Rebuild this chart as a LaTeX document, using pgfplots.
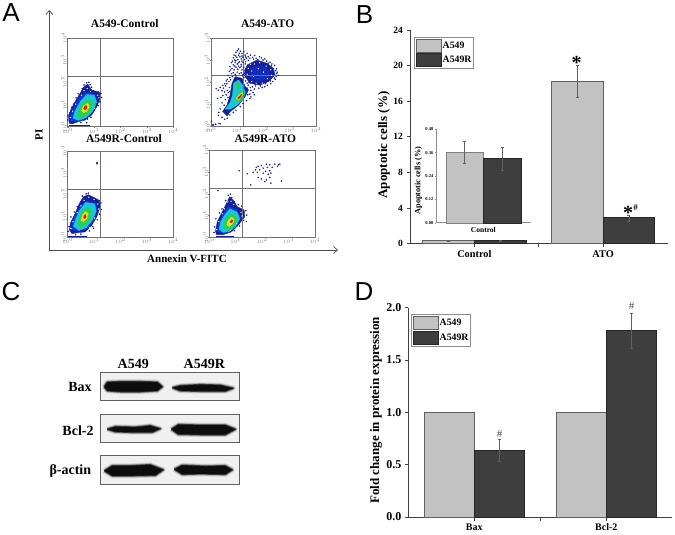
\documentclass[border=0pt]{standalone}
\usepackage{fontspec}
\usepackage{pgfplots}
\pgfplotsset{compat=1.18}
\usetikzlibrary{arrows.meta}
\setmainfont{Liberation Serif}
\newfontfamily\panelfont{Liberation Sans}
\definecolor{barlight}{HTML}{C2C2C2}
\definecolor{bardark}{HTML}{3E3E3E}
\definecolor{dotnavy}{HTML}{14209A}
\definecolor{fblue}{HTML}{1238D8}
\definecolor{fcyan}{HTML}{18C8D8}
\definecolor{fgreen}{HTML}{28D050}
\definecolor{fyellow}{HTML}{E4E020}
\definecolor{fred}{HTML}{D81C10}
\newcommand\fs[1]{\fontsize{#1}{#1}\selectfont}
\tikzset{
  pct/.style={font=\fs{3.6}, text=gray},
  legbox/.style={
    draw=black!45, line width=0.6pt, fill=white, inner sep=1.5pt, row sep=1pt,
    font=\bfseries\fs{9.8}, anchor=north west,
    nodes={inner sep=0.6pt, anchor=west},
    /tikz/every even column/.append style={column sep=3pt}
  }
}
\pgfplotsset{
  flow/.style={
    scale only axis, xmin=0, xmax=4, ymin=0, ymax=4,
    xtick={0,1,2,3,4}, ytick={0,1,2,3,4},
    xticklabels={$10^0$,$10^1$,$10^2$,$10^3$,$10^4$},
    yticklabels={$10^0$,$10^1$,$10^2$,$10^3$,$10^4$},
    tick label style={font=\fs{3.5}, text=gray, inner sep=0pt},
    yticklabel style={rotate=90},
    axis line style={gray!90!black, line width=0.8pt},
    tick style={gray, line width=0.3pt},
    tick align=outside, major tick length=1pt,
    xtick pos=lower, ytick pos=left,
    title style={font=\bfseries\fs{11.5}, anchor=center, inner sep=0pt},
    clip=true
  },
  blob/.style={fill=#1, draw=#1, line width=0.4pt, line join=round, forget plot},
  dots/.style={only marks, mark=*, mark size=0.55pt, color=dotnavy, forget plot},
  specks/.style={only marks, mark=*, mark size=0.4pt, color=white, forget plot},
  cross/.style={gray!90!black, line width=0.8pt, forget plot},
  bars/.style={
    scale only axis, ybar=0pt, ymin=0,
    axis lines*=left, tick align=outside,
    axis line style={black!75, line width=0.9pt},
    tick style={black!75, line width=0.8pt},
    major tick length=3.5pt,
    /pgf/number format/assume math mode=true,
    tick label style={font=\bfseries\fs{9.5}},
    clip=false
  },
  barleg/.style={legend image code/.code={\draw[##1] (0pt,-6.4pt) rectangle (25.5pt,6.4pt);}},
  lightbar/.style={fill=barlight, draw=black!62, line width=0.8pt, barleg},
  darkbar/.style={fill=bardark, draw=black!85, line width=0.8pt, barleg},
  errs/.style={
    error bars/.cd, y dir=both, y explicit,
    error bar style={color=black!62, line width=0.5pt},
    error mark options={rotate=90, mark size=1.5pt, color=black!62, line width=0.4pt}
  },
  blot/.style={
    scale only axis, width=139.4pt, height=28.4pt,
    xmin=0, xmax=139.4, ymin=0, ymax=28.4, ticks=none,
    axis line style={black!62, line width=1.1pt},
    axis background/.style={fill=black!6}
  }
}
% one western blot band, its soft edge built up from wide strokes
\newcommand\band[1]{%
  \addplot[draw=black, line width=5pt, opacity=0.1, line join=round, forget plot] coordinates {#1};
  \addplot[draw=black, line width=3.2pt, opacity=0.25, line join=round, forget plot] coordinates {#1};
  \addplot[draw=black, line width=1.6pt, opacity=0.6, line join=round, forget plot] coordinates {#1};
  \addplot[fill=black!95, draw=none, forget plot] coordinates {#1};
}

\begin{document}
\begin{tikzpicture}[x=1pt, y=-1pt]
\useasboundingbox (0,0) rectangle (675,535);

% ---------- A: flow cytometry ----------
\draw[-{Straight Barb[length=4pt,width=7pt]}, black!70, line width=0.7pt] (49.3,250) -- (49.3,10);
\draw[-{Straight Barb[length=4pt,width=7pt]}, black!70, line width=0.7pt] (49.3,250) -- (338,250);
\node[font=\bfseries\fs{11}, rotate=90] at (39,135) {PI};
\node[font=\bfseries\fs{11}] at (187,259) {Annexin V-FITC};

\begin{axis}[flow, at={(67.7pt,-126.7pt)}, anchor=south west, width=105.6pt, height=88.7pt,
  title={A549-Control}, title style={at={(rel axis cs:0.54,1.095)}}]
\addplot[blob=dotnavy] coordinates {(0.06,0.15)(0.03,0.45)(0.11,0.75)(0.28,1.13)(0.47,1.50)(0.59,1.77)(0.76,1.92)(0.91,1.65)(1.23,1.53)(1.23,1.28)(1.10,0.90)(0.91,0.53)(0.66,0.30)(0.41,0.23)(0.15,0.12)};
\addplot[specks] coordinates {(0.62,1.62)(0.74,1.72)(0.86,1.58)(1.14,1.42)(1.18,1.30)(0.30,1.02)(0.18,0.70)(0.10,0.42)(1.02,0.82)(0.80,0.42)(0.52,1.42)};
\addplot[blob=fblue] coordinates {(0.12,0.22)(0.12,0.55)(0.26,0.92)(0.44,1.30)(0.68,1.55)(1.04,1.46)(1.10,1.18)(0.96,0.70)(0.70,0.38)(0.38,0.27)};
\addplot[blob=fcyan] coordinates {(0.20,0.38)(0.28,0.70)(0.48,1.13)(0.72,1.45)(1.00,1.42)(1.10,1.10)(0.95,0.70)(0.70,0.42)(0.40,0.28)};
\addplot[blob=fgreen] coordinates {(0.36,0.48)(0.42,0.78)(0.58,1.10)(0.80,1.25)(0.95,1.10)(0.88,0.75)(0.70,0.52)(0.48,0.40)};
\addplot[blob=fyellow] coordinates {(0.52,0.70)(0.60,0.95)(0.76,1.05)(0.82,0.90)(0.72,0.70)(0.60,0.62)};
\addplot[blob=fred] coordinates {(0.60,0.80)(0.66,0.95)(0.73,0.94)(0.72,0.82)(0.65,0.76)};
\addplot[dots] coordinates {(0.72,1.98)(0.80,2.00)(0.85,1.90)(0.62,1.88)(0.55,1.72)(0.90,1.78)(0.98,1.62)(1.05,1.58)(1.15,1.58)(1.26,1.50)(1.28,1.32)(1.22,1.12)(1.15,0.95)(1.08,1.02)(1.00,0.72)(0.88,0.42)(0.75,0.35)(0.40,1.48)(0.32,1.30)(0.22,1.02)(0.15,0.88)(0.08,0.62)(0.02,0.52)(0.00,0.30)(0.72,0.18)(0.50,0.18)};
\addplot[dotnavy, line width=1pt, forget plot] coordinates {(0.05,0.05)(0.85,0.05)};
\addplot[cross] coordinates {(1.25,0)(1.25,4)};
\addplot[cross] coordinates {(0,2.28)(4,2.28)};
\node[pct] at (rel axis cs:-0.05,1.087) {0.2\%};
\node[pct] at (rel axis cs:1.057,1.087) {0.2\%};
\node[pct] at (rel axis cs:-0.05,-0.056) {99.5\%};
\node[pct] at (rel axis cs:1.057,-0.056) {0.2\%};
\end{axis}

\begin{axis}[flow, at={(211pt,-126pt)}, anchor=south west, width=105pt, height=88pt,
  title={A549-ATO}, title style={at={(rel axis cs:0.54,1.095)}}]
\addplot[blob=dotnavy] coordinates {(1.37,2.77)(1.75,3.00)(2.13,2.85)(2.38,2.62)(2.44,2.32)(2.19,2.02)(1.87,1.86)(1.49,1.94)(1.30,2.24)(1.28,2.55)};
\addplot[specks] coordinates {(1.42,2.62)(1.50,2.80)(1.38,2.35)(1.35,2.10)(1.55,2.02)(1.72,1.95)(1.95,1.95)(2.15,2.15)(2.30,2.30)(2.28,2.55)(2.10,2.72)(1.85,2.88)(1.65,2.82)(1.55,2.50)(1.62,2.25)(1.80,2.60)(2.00,2.45)};
\addplot[blob=fblue, opacity=0.55] coordinates {(1.60,2.70)(1.95,2.72)(2.22,2.50)(2.20,2.20)(1.90,2.05)(1.55,2.15)(1.45,2.45)};
\addplot[blob=dotnavy] coordinates {(0.44,0.65)(0.61,0.95)(0.73,1.41)(0.80,1.94)(0.92,2.24)(1.18,2.17)(1.30,1.79)(1.43,1.64)(1.30,1.33)(1.05,0.95)(0.73,0.65)(0.61,0.45)};
\addplot[blob=fcyan] coordinates {(0.54,0.76)(0.73,1.06)(0.82,1.41)(0.86,1.94)(1.05,2.09)(1.20,1.86)(1.30,1.56)(1.24,1.26)(0.99,0.95)(0.73,0.76)};
\addplot[blob=fgreen] coordinates {(0.95,1.86)(1.05,1.97)(1.11,1.79)(0.99,1.67)};
\addplot[blob=fgreen] coordinates {(0.90,1.18)(1.03,1.48)(1.24,1.61)(1.25,1.41)(1.08,1.11)};
\addplot[blob=fyellow] coordinates {(0.95,1.23)(1.08,1.44)(1.22,1.53)(1.20,1.39)(1.05,1.18)};
\addplot[blob=fred] coordinates {(1.01,1.26)(1.13,1.41)(1.18,1.45)(1.14,1.33)(1.05,1.23)};
\addplot[dots] coordinates {(0.95,3.35)(1.00,3.42)(1.05,3.50)(1.08,3.30)(1.12,3.40)(1.18,3.30)(1.25,3.38)(1.30,3.22)(1.38,3.30)(1.42,3.15)(1.50,3.22)(1.58,3.12)(1.66,3.20)(1.72,3.08)(1.85,3.15)(1.92,3.10)(2.05,3.05)(2.12,2.95)(2.25,2.90)(2.32,2.82)(2.42,2.75)(2.50,2.60)(2.52,2.45)(2.48,2.25)(2.58,2.30)(2.45,2.12)(2.35,2.02)(2.28,1.92)(2.15,1.85)(2.05,1.78)(1.95,1.75)(1.82,1.72)(1.70,1.82)(1.58,1.78)(1.65,1.68)(1.52,1.62)(1.60,1.52)(1.48,1.45)
(0.85,3.10)(0.90,3.00)(0.98,3.12)(1.02,3.02)(1.10,3.15)(1.15,3.05)(1.22,3.12)(1.28,3.02)(1.35,3.08)(1.42,2.98)(0.78,2.88)(0.85,2.78)(0.92,2.90)(1.00,2.82)(1.08,2.92)(1.15,2.80)(1.22,2.88)(1.30,2.82)(0.72,2.70)(0.80,2.62)(0.88,2.55)(0.95,2.68)(1.02,2.58)(1.10,2.65)(1.18,2.55)(1.25,2.68)(0.70,2.48)(0.78,2.38)(0.85,2.42)(0.92,2.35)(1.00,2.45)(1.08,2.38)(1.15,2.42)(1.22,2.35)(1.28,2.40)(0.65,2.30)(0.72,2.20)(0.62,2.12)(0.68,2.02)(0.75,2.10)(1.25,2.20)(1.32,2.05)(1.38,1.95)(1.42,1.85)
(0.20,1.70)(0.28,1.62)(0.35,1.75)(0.42,1.60)(0.48,1.72)(0.55,1.82)(0.60,1.92)(0.52,1.55)(0.62,1.62)(0.58,1.42)(0.45,1.38)(0.38,1.30)(0.25,1.25)(0.65,1.30)(0.55,1.20)(0.42,1.05)(0.50,0.95)(0.35,0.78)(0.30,0.62)(0.28,0.48)(0.42,0.40)(0.52,0.30)(0.62,0.35)(0.72,0.50)(0.85,0.62)(0.95,0.72)(1.12,0.88)(1.22,1.02)(1.35,1.15)(1.48,1.25)(1.40,1.42)(1.52,1.32)(1.65,1.42)
(0.05,0.05)(0.10,0.05)(0.18,0.08)(0.30,0.12)(0.02,0.22)(0.35,0.10)
(0.88,3.22)(0.95,3.18)(1.05,3.22)(1.18,3.18)(1.32,3.14)(1.48,3.08)(1.62,3.04)(1.78,3.02)(1.98,3.00)(2.18,2.86)(2.30,2.74)(2.46,2.52)(2.50,2.38)(2.42,2.18)(2.26,2.05)(2.08,1.92)(1.88,1.82)(1.68,1.90)(1.45,1.98)(1.50,1.75)(1.38,1.72)
(0.82,2.95)(0.95,2.98)(1.05,2.88)(1.18,2.95)(1.32,2.92)(0.75,2.55)(0.90,2.72)(1.05,2.72)(1.15,2.72)(1.32,2.60)(0.82,2.25)(0.95,2.28)(1.20,2.28)(1.28,2.30)(0.58,2.05)(0.52,1.92)(0.45,1.85)(0.70,1.75)(0.66,1.52)(0.72,1.58)};
\addplot[cross] coordinates {(1.25,0)(1.25,4)};
\addplot[cross] coordinates {(0,2.28)(4,2.28)};
\node[pct] at (rel axis cs:-0.048,1.087) {3.2\%};
\node[pct] at (rel axis cs:1.07,1.087) {6.4\%};
\node[pct] at (rel axis cs:-0.048,-0.06) {78.0\%};
\node[pct] at (rel axis cs:1.07,-0.06) {8.6\%};
\end{axis}

\begin{axis}[flow, at={(67.7pt,-237.3pt)}, anchor=south west, width=105.6pt, height=86pt,
  title={A549R-Control}, title style={at={(rel axis cs:0.533,1.08)}}]
\addplot[blob=dotnavy] coordinates {(0.06,0.33)(0.11,0.68)(0.28,1.10)(0.44,1.57)(0.59,1.88)(0.78,1.98)(1.20,1.72)(1.23,1.41)(1.10,0.95)(0.91,0.56)(0.66,0.25)(0.41,0.22)(0.15,0.17)};
\addplot[specks] coordinates {(0.62,1.72)(0.80,1.86)(1.00,1.76)(1.14,1.55)(1.18,1.32)(0.36,1.15)(0.20,0.72)(0.12,0.42)(1.02,0.90)(0.82,0.46)(0.50,1.46)};
\addplot[blob=fblue] coordinates {(0.14,0.35)(0.18,0.72)(0.34,1.12)(0.50,1.50)(0.72,1.70)(1.06,1.58)(1.12,1.30)(0.98,0.80)(0.74,0.42)(0.40,0.29)};
\addplot[blob=fcyan] coordinates {(0.22,0.50)(0.30,0.85)(0.45,1.25)(0.68,1.62)(1.02,1.55)(1.08,1.22)(0.92,0.78)(0.70,0.45)(0.42,0.32)};
\addplot[blob=fgreen] coordinates {(0.38,0.62)(0.45,0.95)(0.58,1.25)(0.78,1.40)(0.92,1.22)(0.85,0.88)(0.68,0.58)(0.48,0.48)};
\addplot[blob=fyellow] coordinates {(0.50,0.78)(0.56,1.05)(0.68,1.20)(0.78,1.10)(0.72,0.85)(0.58,0.72)};
\addplot[blob=fred] coordinates {(0.60,0.90)(0.62,1.03)(0.68,1.06)(0.70,0.95)(0.65,0.86)};
\addplot[dots] coordinates {(1.11,3.47)(1.11,3.42)(0.70,2.02)(0.78,2.05)(0.55,1.92)(0.95,1.85)(1.05,1.78)(1.18,1.70)(1.26,1.60)(1.28,1.30)(1.20,1.08)(1.12,0.82)(0.95,0.50)(0.82,0.30)(0.88,0.62)(0.98,0.42)(0.36,1.42)(0.25,1.18)(0.12,0.95)(0.05,0.50)(0.02,0.28)(0.30,0.12)(0.50,0.15)};
\addplot[dotnavy, line width=1pt, forget plot] coordinates {(0.02,0.05)(0.72,0.05)};
\addplot[cross] coordinates {(1.23,0)(1.23,4)};
\addplot[cross] coordinates {(0,2.25)(4,2.25)};
\node[pct] at (rel axis cs:-0.05,1.088) {0.4\%};
\node[pct] at (rel axis cs:1.057,1.088) {0.2\%};
\node[pct] at (rel axis cs:-0.05,-0.081) {99.2\%};
\node[pct] at (rel axis cs:1.057,-0.081) {0.2\%};
\end{axis}

\begin{axis}[flow, at={(209.3pt,-237.3pt)}, anchor=south west, width=105.7pt, height=87.3pt,
  title={A549R-ATO}, title style={at={(rel axis cs:0.53,1.065)}}]
\addplot[blob=dotnavy] coordinates {(0.23,0.25)(0.30,0.71)(0.46,1.09)(0.65,1.55)(0.77,1.86)(0.90,1.71)(1.06,1.40)(1.32,1.25)(1.34,0.94)(1.09,0.55)(0.84,0.25)(0.52,0.12)(0.27,0.12)};
\addplot[specks] coordinates {(0.70,1.62)(0.82,1.65)(0.92,1.50)(1.20,1.15)(1.24,0.98)(0.50,1.08)(0.36,0.72)(0.28,0.35)(1.04,0.62)(0.80,0.32)(0.58,1.30)};
\addplot[blob=fblue] coordinates {(0.30,0.28)(0.36,0.66)(0.52,1.05)(0.72,1.42)(1.02,1.26)(1.20,0.92)(1.04,0.56)(0.80,0.28)(0.50,0.18)};
\addplot[blob=fcyan] coordinates {(0.38,0.35)(0.42,0.68)(0.58,1.02)(0.78,1.30)(1.05,1.15)(1.15,0.85)(1.00,0.52)(0.78,0.28)(0.52,0.22)};
\addplot[blob=fgreen] coordinates {(0.52,0.45)(0.58,0.72)(0.72,1.00)(0.95,1.05)(1.05,0.82)(0.90,0.50)(0.70,0.35)};
\addplot[blob=fyellow] coordinates {(0.66,0.56)(0.72,0.78)(0.85,0.92)(0.95,0.80)(0.85,0.58)(0.74,0.50)};
\addplot[blob=fred] coordinates {(0.78,0.68)(0.84,0.80)(0.90,0.78)(0.84,0.66)};
\addplot[dots] coordinates {(1.78,3.20)(1.85,3.25)(1.97,3.29)(2.16,3.35)(2.29,3.32)(2.48,3.35)(2.61,3.32)(2.67,3.35)(1.75,3.09)(1.91,3.09)(2.04,3.17)(2.20,3.20)(2.38,3.20)(2.58,3.25)(1.82,2.98)(2.13,3.02)(2.29,3.05)(1.66,2.98)(2.04,2.94)(2.23,2.89)(2.33,2.94)(1.85,2.74)(1.97,2.68)(2.16,2.63)(2.29,2.74)(2.10,2.55)(2.33,2.48)(2.73,2.58)(1.44,2.91)(1.57,2.40)(1.13,3.05)(0.33,2.14)
(0.72,1.92)(0.80,1.98)(0.85,1.82)(0.62,1.68)(0.95,1.62)(1.10,1.50)(1.22,1.42)(1.38,1.22)(1.42,1.02)(1.30,0.78)(1.40,0.72)(1.15,0.52)(0.95,0.30)(0.25,0.85)(0.38,1.12)(0.48,1.30)(0.20,0.48)(0.18,0.22)};
\addplot[dotnavy, line width=1pt, forget plot] coordinates {(0.25,0.05)(0.95,0.05)};
\addplot[cross] coordinates {(1.25,0)(1.25,4)};
\addplot[cross] coordinates {(0,2.25)(4,2.25)};
\node[pct] at (rel axis cs:-0.05,1.084) {0.2\%};
\node[pct] at (rel axis cs:1.054,1.084) {2.2\%};
\node[pct] at (rel axis cs:-0.05,-0.08) {87.0\%};
\node[pct] at (rel axis cs:1.054,-0.08) {0.6\%};
\end{axis}

% ---------- B: apoptotic cells ----------
\begin{axis}[bars, at={(410pt,-243.7pt)}, anchor=south west, width=257.5pt, height=213.7pt,
  bar width=51.7pt, xmin=0.5, xmax=2.5, ymax=24, ytick={0,4,8,12,16,20,24},
  xtick={1,2}, xticklabels={Control,ATO}, minor xtick={1.5},
  minor tick length=3.5pt,
  x tick label style={font=\bfseries\fs{10.3}},
  ylabel={Apoptotic cells (\%)},
  ylabel style={at={(rel axis cs:-0.101,0.462)}, anchor=center, font=\bfseries\fs{13}},
  legend style={legbox, at={(rel axis cs:0.0155,0.967)}}]
\addplot[lightbar, errs] coordinates {(1,0.36) +- (0,0.05) (2,18.2) += (0,1.8) -= (0,1.7)};
\addplot[darkbar, errs] coordinates {(1,0.33) +- (0,0.05) (2,2.9) += (0,0.35) -= (0,0.4)};
\legend{A549,A549R}
\end{axis}
\node[font=\bfseries\fs{20}] at (576.7,63) {*};
\node[font=\bfseries\fs{20}] at (628,213) {*};
\node[font=\bfseries\fs{9}] at (635.7,208) {\#};

% inset
\begin{axis}[bars, at={(436pt,-222.7pt)}, anchor=south west, width=94.7pt, height=93.4pt,
  bar width=37.7pt, xmin=0.5, xmax=1.5, ymax=0.48, ytick={0,0.12,0.24,0.36,0.48},
  xtick={1}, xticklabels={Control},
  axis line style={black!45, line width=0.5pt},
  tick style={black!45, line width=0.4pt}, major tick length=1.5pt,
  /pgf/number format/fixed, /pgf/number format/fixed zerofill, /pgf/number format/precision=2,
  y tick label style={font=\bfseries\fs{4.5}, inner sep=1pt},
  x tick label style={font=\bfseries\fs{7.5}},
  ylabel={Apoptotic cells (\%)},
  ylabel style={at={(rel axis cs:-0.185,0.45)}, anchor=center, font=\bfseries\fs{8.2}}]
\addplot[fill=barlight, draw=black!50, line width=0.3pt, errs] coordinates {(1,0.363) += (0,0.057) -= (0,0.058)};
\addplot[fill=bardark, draw=black!85, line width=0.3pt, errs] coordinates {(1,0.33) += (0,0.06) -= (0,0.06)};
\end{axis}

% ---------- C: western blot ----------
\node[font=\bfseries\fs{14}] at (133.3,364.3) {A549};
\node[font=\bfseries\fs{14}] at (204.3,364.3) {A549R};
\node[font=\bfseries\fs{14}] at (80,386.7) {Bax};
\node[font=\bfseries\fs{14}] at (78,430.7) {Bcl-2};
\node[font=\bfseries\fs{14}] at (70.3,471.3) {β-actin};
\begin{axis}[blot, at={(100.3pt,-400.7pt)}, anchor=south west]
\band{(4,14)(7,18.5)(20,19)(40,19)(57,18.5)(62,14)(57,10)(40,9)(20,9)(7,10)(4,14)}
\band{(72,13)(80,15)(100,16)(120,15.5)(133,12.5)(125,9.5)(100,9.5)(80,10)(72,13)}
\end{axis}
\begin{axis}[blot, at={(100.3pt,-442.7pt)}, anchor=south west]
\band{(7,13.5)(15,16)(35,15.5)(50,17)(60,14)(52,10.5)(30,10.5)(15,11)(7,13.5)}
\band{(71,13.5)(78,18)(100,17.5)(125,17.5)(135,13.5)(125,8)(100,8)(78,8.5)(71,13.5)}
\end{axis}
\begin{axis}[blot, at={(100.3pt,-484.3pt)}, anchor=south west]
\band{(4,13.5)(12,18.5)(30,18.5)(50,19.5)(63,14.5)(55,9)(30,8.5)(12,8.5)(4,13.5)}
\band{(74,15)(82,19)(105,18)(125,18.5)(132,14.5)(125,10)(100,10.5)(82,10)(74,15)}
\end{axis}

% ---------- D: protein expression ----------
\begin{axis}[bars, at={(408.3pt,-517pt)}, anchor=south west, width=264pt, height=209.3pt,
  bar width=49.8pt, xmin=0.5, xmax=2.5, ymax=2, ytick={0,0.5,1,1.5,2},
  xtick={1,2}, xticklabels={Bax,Bcl-2}, minor xtick={1.5},
  minor tick length=3.5pt,
  /pgf/number format/fixed, /pgf/number format/fixed zerofill, /pgf/number format/precision=1,
  y tick label style={font=\bfseries\fs{12}},
  x tick label style={font=\bfseries\fs{10}},
  ylabel={Fold change in protein expression},
  ylabel style={at={(rel axis cs:-0.122,0.51)}, anchor=center, font=\bfseries\fs{13}},
  legend style={legbox, at={(rel axis cs:0.0102,0.968)}}]
\addplot[lightbar] coordinates {(1,1) (2,1)};
\addplot[darkbar, errs] coordinates {(1,0.64) += (0,0.10) -= (0,0.11) (2,1.78) += (0,0.17) -= (0,0.17)};
\legend{A549,A549R}
\end{axis}
\node[font=\fs{11}, text=black!70] at (499.7,433.7) {\#};
\node[font=\fs{11}, text=black!70] at (631.7,306) {\#};

% panel letters
\node[font=\panelfont\fs{26}] at (11,12.5) {A};
\node[font=\panelfont\fs{26}] at (364.5,14.5) {B};
\node[font=\panelfont\fs{26}] at (11,292) {C};
\node[font=\panelfont\fs{26}] at (364,292) {D};
\end{tikzpicture}
\end{document}
